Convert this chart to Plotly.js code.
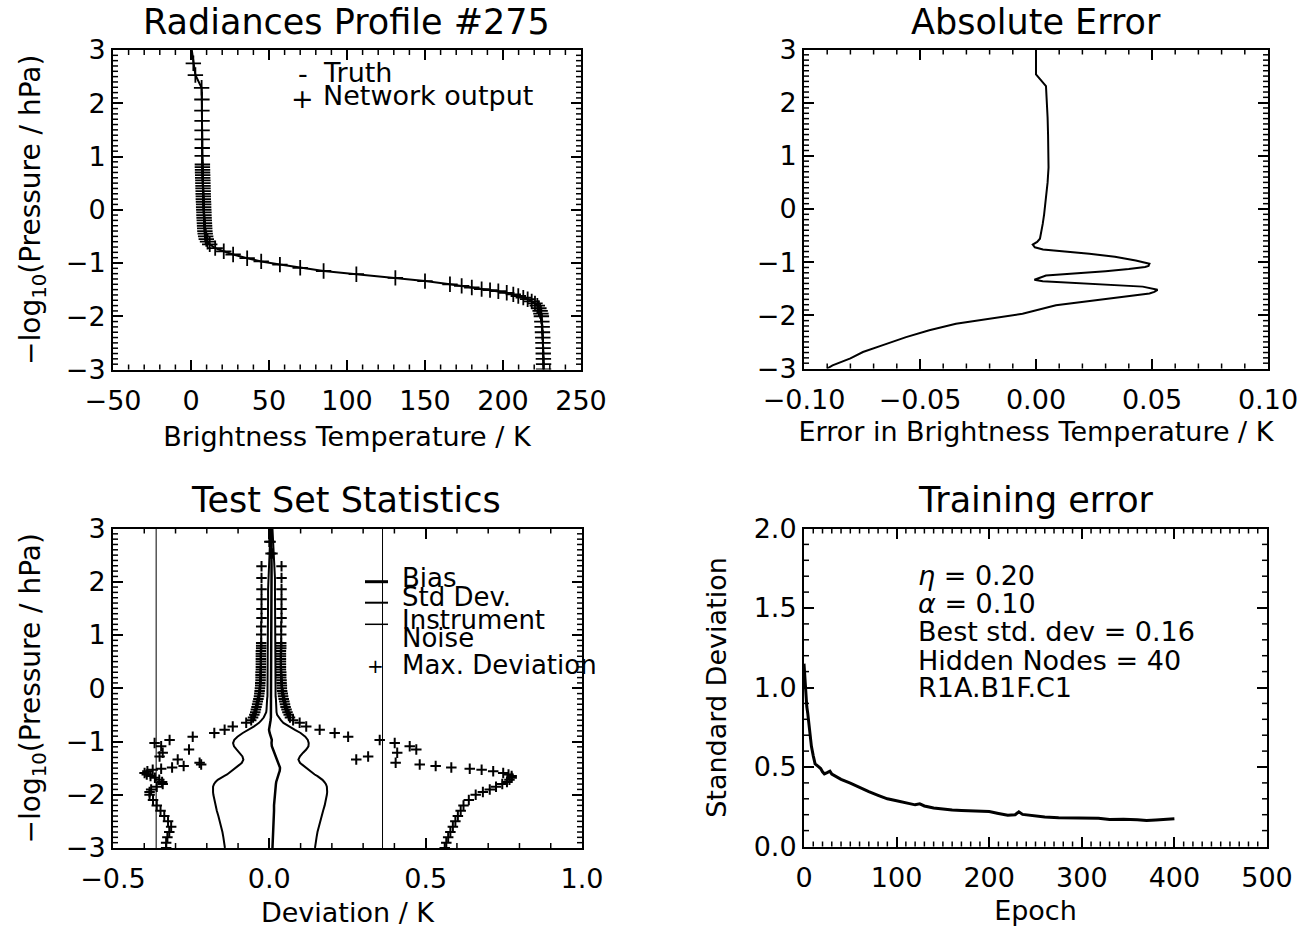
<!DOCTYPE html>
<html>
<head>
<meta charset="utf-8">
<script src="https://cdn.plot.ly/plotly-3.0.1.min.js"></script>
<style>
html,body{margin:0;padding:0;background:#fff;}
#chart{width:1313px;height:932px;}
</style>
</head>
<body>
<div id="chart"></div>
<script>
// ---------- Data ----------
// Pressure levels, -log10(Pressure / hPa), shared by panels 1 and 3
const levels = [3.00, 2.75, 2.53, 2.29, 2.07, 1.86, 1.67, 1.49, 1.32, 1.16, 1.01,
  0.85, 0.80, 0.75, 0.70, 0.65, 0.60, 0.55, 0.50, 0.45, 0.40, 0.35, 0.30, 0.25, 0.20, 0.15, 0.10, 0.05, 0.00,
  -0.05, -0.10, -0.15, -0.20, -0.25, -0.30, -0.35, -0.40, -0.45, -0.50, -0.55, -0.60, -0.65,
  -0.72, -0.78, -0.84, -0.91, -0.97, -1.03, -1.09, -1.15, -1.21, -1.28, -1.34, -1.40,
  -1.43, -1.46, -1.49, -1.51, -1.53, -1.56, -1.59, -1.62, -1.65, -1.68, -1.72, -1.76, -1.80, -1.85, -1.90, -1.95, -2.00,
  -2.10, -2.20, -2.30, -2.40, -2.50, -2.60, -2.70, -2.80, -2.90, -3.00];

// Panel 1: brightness temperature profile (K)
const truthBT = [0.5, 1.5, 2.8, 6.8, 7.0, 7.0, 7.1, 7.1, 7.2, 7.2, 7.2,
  7.3, 7.3, 7.4, 7.4, 7.5, 7.5, 7.6, 7.6, 7.7, 7.7, 7.8, 7.8, 7.9, 7.9, 8.0, 8.1, 8.1, 8.2,
  8.3, 8.3, 8.4, 8.5, 8.6, 8.7, 8.8, 8.9, 9.1, 9.4, 9.8, 10.6, 12.0,
  15.5, 21.0, 27.0, 36.0, 45.0, 57.0, 70.0, 85.0, 106.0, 131.0, 150.0, 166.0,
  173.5, 180.0, 186.3, 191.7, 197.0, 202.4, 206.6, 209.8, 213.0, 215.8, 218.4, 220.5, 222.0, 223.0, 223.8, 224.3, 224.6,
  224.9, 225.1, 225.3, 225.5, 225.6, 225.7, 225.8, 225.9, 226.0, 226.0];
const netLevels = levels.slice(1);
const netBT = truthBT.slice(1);

// Panel 2: absolute error (K)
const errLevels = [3.00, 2.53, 2.31, 2.00, 1.72, 1.40, 1.00, 0.78, 0.50, 0.16,
  -0.10, -0.28, -0.45, -0.56, -0.62, -0.67, -0.72, -0.76, -0.84, -0.90,
  -0.97, -1.03, -1.07, -1.09, -1.13, -1.17, -1.25, -1.33, -1.36, -1.41,
  -1.46, -1.52, -1.56, -1.59, -1.69, -1.81, -1.97, -2.06, -2.16, -2.28,
  -2.41, -2.56, -2.69, -2.81, -2.94, -3.00];
const absErr = [0.000, 0.000, 0.0043, 0.0048, 0.0050, 0.0052, 0.0054, 0.0054, 0.0050, 0.0043,
  0.0035, 0.0029, 0.0022, 0.0017, 0.0005, -0.0014, -0.0005, 0.003, 0.023, 0.034,
  0.043, 0.0489, 0.0485, 0.047, 0.040, 0.030, 0.0043, -0.0007, 0.0029, 0.023,
  0.046, 0.0524, 0.051, 0.0489, 0.030, 0.0086, -0.0058, -0.020, -0.0345, -0.046,
  -0.056, -0.066, -0.0746, -0.080, -0.0877, -0.090];

// Panel 3: test set statistics (K), on the shared levels
const biasDev = [0.006, 0.007, 0.007, 0.007, 0.007, 0.007, 0.007, 0.007, 0.007, 0.007, 0.007,
  0.007, 0.007, 0.007, 0.007, 0.007, 0.007, 0.007, 0.007, 0.007, 0.007, 0.007, 0.007, 0.007, 0.007, 0.007, 0.007, 0.007, 0.007,
  0.007, 0.007, 0.007, 0.007, 0.006, 0.006, 0.006, 0.006, 0.006, 0.006, 0.005, 0.004, 0.002,
  0.000, -0.001, 0.001, 0.006, 0.008, 0.007, 0.008, 0.012, 0.016, 0.021, 0.026, 0.030,
  0.031, 0.033, 0.034, 0.034, 0.034, 0.033, 0.031, 0.029, 0.027, 0.025, 0.024, 0.022, 0.021, 0.020, 0.019, 0.018, 0.017,
  0.016, 0.015, 0.015, 0.014, 0.013, 0.013, 0.012, 0.011, 0.011, 0.010];
const stdLow = [0.004, 0.002, -0.001, -0.003, -0.004, -0.004, -0.004, -0.004, -0.004, -0.004, -0.005,
  -0.005, -0.005, -0.005, -0.005, -0.005, -0.005, -0.005, -0.005, -0.005, -0.005, -0.005, -0.005, -0.005, -0.005, -0.005, -0.005, -0.006, -0.006,
  -0.006, -0.006, -0.006, -0.007, -0.007, -0.008, -0.008, -0.009, -0.010, -0.013, -0.018, -0.025, -0.033,
  -0.050, -0.068, -0.085, -0.102, -0.112, -0.116, -0.113, -0.105, -0.095, -0.086, -0.083, -0.088,
  -0.094, -0.100, -0.106, -0.110, -0.114, -0.120, -0.127, -0.135, -0.145, -0.155, -0.165, -0.172, -0.177, -0.180, -0.181, -0.180, -0.179,
  -0.176, -0.173, -0.168, -0.163, -0.158, -0.154, -0.150, -0.147, -0.144, -0.142];
const stdHigh = [0.010, 0.012, 0.014, 0.017, 0.018, 0.018, 0.018, 0.018, 0.018, 0.018, 0.019,
  0.019, 0.019, 0.019, 0.019, 0.019, 0.019, 0.019, 0.019, 0.019, 0.019, 0.019, 0.019, 0.019, 0.019, 0.019, 0.020, 0.020, 0.020,
  0.020, 0.020, 0.020, 0.021, 0.021, 0.021, 0.022, 0.022, 0.023, 0.025, 0.030, 0.037, 0.045,
  0.063, 0.082, 0.100, 0.115, 0.123, 0.126, 0.125, 0.118, 0.108, 0.098, 0.093, 0.098,
  0.104, 0.110, 0.116, 0.120, 0.124, 0.130, 0.137, 0.145, 0.154, 0.162, 0.170, 0.176, 0.181, 0.184, 0.185, 0.185, 0.184,
  0.181, 0.177, 0.172, 0.167, 0.162, 0.158, 0.154, 0.151, 0.148, 0.146];
const maxDevLow = [null, 0.000, 0.004, -0.025, -0.025, -0.025, -0.025, -0.025, -0.025, -0.026, -0.026,
  -0.026, -0.026, -0.026, -0.027, -0.027, -0.027, -0.027, -0.027, -0.027, -0.027, -0.027, -0.028, -0.028, -0.028, -0.028, -0.029, -0.029, -0.030,
  -0.031, -0.032, -0.033, -0.035, -0.037, -0.039, -0.041, -0.043, -0.045, -0.048, -0.052, -0.058, -0.074,
  -0.117, -0.143, -0.176, -0.245, -0.319, -0.367, -0.346, -0.257, -0.341, -0.351, -0.293, -0.223,
  -0.218, -0.274, -0.311, -0.346, -0.373, -0.390, -0.399, -0.392, -0.380, -0.366, -0.352, -0.343, -0.341, -0.360, -0.378, -0.383, -0.383,
  -0.372, -0.360, -0.348, -0.336, -0.324, -0.314, -0.320, -0.326, -0.330, -0.330];
const maxDevHigh = [null, 0.004, 0.010, 0.039, 0.039, 0.039, 0.039, 0.039, 0.039, 0.038, 0.038,
  0.038, 0.038, 0.038, 0.037, 0.037, 0.037, 0.037, 0.037, 0.037, 0.037, 0.037, 0.038, 0.038, 0.038, 0.039, 0.039, 0.040, 0.040,
  0.041, 0.043, 0.044, 0.046, 0.048, 0.050, 0.052, 0.055, 0.058, 0.062, 0.066, 0.076, 0.097,
  0.118, 0.161, 0.209, 0.252, 0.353, 0.401, 0.449, 0.470, 0.409, 0.316, 0.278, 0.404,
  0.481, 0.532, 0.582, 0.641, 0.679, 0.716, 0.748, 0.765, 0.775, 0.775, 0.768, 0.760, 0.745, 0.725, 0.705, 0.683, 0.660,
  0.638, 0.621, 0.612, 0.603, 0.595, 0.587, 0.579, 0.572, 0.566, 0.561];
const noiseLevels = [3.0, -3.0];
const noiseHigh = [0.362, 0.362];
const noiseLow = [-0.362, -0.362];

// Panel 4: training error
const epochs = [0, 1, 2, 3, 4, 5, 6, 8, 10, 12,
  15, 18, 20, 22, 25, 28, 30, 35, 40, 50,
  60, 70, 80, 90, 100, 110, 120, 125, 130, 140,
  150, 160, 170, 180, 190, 200, 210, 220, 228, 232,
  236, 245, 260, 275, 290, 300, 310, 318, 330, 345,
  360, 370, 380, 390, 400];
const trainErr = [1.15, 1.03, 0.95, 0.88, 0.84, 0.78, 0.71, 0.63, 0.57, 0.52,
  0.505, 0.49, 0.47, 0.457, 0.465, 0.474, 0.455, 0.436, 0.422, 0.398,
  0.370, 0.345, 0.322, 0.300, 0.288, 0.275, 0.262, 0.268, 0.255, 0.242,
  0.235, 0.229, 0.226, 0.224, 0.221, 0.220, 0.208, 0.196, 0.200, 0.218,
  0.202, 0.195, 0.186, 0.181, 0.180, 0.178, 0.182, 0.178, 0.170, 0.172,
  0.168, 0.163, 0.166, 0.168, 0.174];

// ---------- Styling ----------
const FONT = 'DejaVu Sans, sans-serif';
const WEIGHT = 400;
const W = 1313, H = 932;
const px = v => v / W;          // layout helpers (paper coords from pixels)
const py = v => 1 - v / H;

function axis(o) {
  return Object.assign({
    tickmode: 'linear', tick0: 0,
    ticks: 'inside', ticklen: 10, tickwidth: 2, tickcolor: '#000',
    showline: true, linecolor: '#000', linewidth: 2, mirror: 'ticks',
    showgrid: false, zeroline: false,
    tickfont: {family: FONT, size: 27, color: '#000', weight: WEIGHT},
    fixedrange: true
  }, o);
}
function ttl(text, standoff, size) {
  return {text: text, standoff: standoff, font: {family: FONT, size: size || 27, color: '#000', weight: WEIGHT}};
}
const ylab = '\u2212log<sub>10</sub>(Pressure / hPa)';

const layout = {
  width: W, height: H,
  margin: {l: 0, r: 0, t: 0, b: 0},
  paper_bgcolor: '#fff', plot_bgcolor: '#fff',
  showlegend: false,
  font: {family: FONT, color: '#000', weight: WEIGHT},
  xaxis: axis({domain: [px(113), px(581)], anchor: 'y', range: [-50, 250], dtick: 50, ticklabelstandoff: 6,
               title: ttl('Brightness Temperature / K', 12)}),
  yaxis: axis({domain: [py(369.5), py(50)], anchor: 'x', range: [-3, 3], dtick: 1, ticklabelstandoff: 0,
               title: ttl(ylab, 17, 28)}),
  xaxis2: axis({domain: [px(804), px(1268)], anchor: 'y2', range: [-0.1, 0.1], dtick: 0.05, ticklabelstandoff: 6,
               tickformat: '.2f', title: ttl('Error in Brightness Temperature / K', 8)}),
  yaxis2: axis({domain: [py(368.5), py(49.5)], anchor: 'x2', range: [-3, 3], dtick: 1, ticklabelstandoff: 0}),
  xaxis3: axis({domain: [px(113), px(582)], anchor: 'y3', range: [-0.5, 1.0], dtick: 0.5, ticklabelstandoff: 6,
               tickformat: '.1f', title: ttl('Deviation / K', 10)}),
  yaxis3: axis({domain: [py(848), py(528.5)], anchor: 'x3', range: [-3, 3], dtick: 1, ticklabelstandoff: 0,
               title: ttl(ylab, 17, 28)}),
  xaxis4: axis({domain: [px(804), px(1267)], anchor: 'y4', range: [0, 500], dtick: 100, ticklabelstandoff: 6,
               title: ttl('Epoch', 9)}),
  yaxis4: axis({domain: [py(846.5), py(528.5)], anchor: 'x4', range: [0, 2], dtick: 0.5, ticklabelstandoff: 0,
               tickformat: '.1f', title: ttl('Standard Deviation', 19)}),
  shapes: [
    {type: 'line', xref: 'paper', yref: 'paper', x0: px(365), x1: px(388), y0: py(581.7), y1: py(581.7), line: {color: '#000', width: 3}},
    {type: 'line', xref: 'paper', yref: 'paper', x0: px(365), x1: px(388), y0: py(602.7), y1: py(602.7), line: {color: '#000', width: 2}},
    {type: 'line', xref: 'paper', yref: 'paper', x0: px(365), x1: px(388), y0: py(624.3), y1: py(624.3), line: {color: '#000', width: 1.5}}
  ],
  annotations: []
};

// Minor tick marks on all four sides (axis decoration, IDL style), drawn in paper coordinates
const panels = [
  {xr: [-50, 250], xs: 10, xm: 50, yr: [-3, 3], ys: 0.1, ym: 1, L: 113, R: 581, T: 50, B: 369.5},
  {xr: [-0.1, 0.1], xs: 0.01, xm: 0.05, yr: [-3, 3], ys: 0.1, ym: 1, L: 804, R: 1268, T: 49.5, B: 368.5},
  {xr: [-0.5, 1.0], xs: 0.1, xm: 0.5, yr: [-3, 3], ys: 0.1, ym: 1, L: 113, R: 582, T: 528.5, B: 848},
  {xr: [0, 500], xs: 10, xm: 100, yr: [0, 2], ys: 0.1, ym: 0.5, L: 804, R: 1267, T: 528.5, B: 846.5}
];
function minorTicks(p) {
  const len = 5, ln = {color: '#000', width: 1.5};
  const isMajor = (v, m) => Math.abs(v / m - Math.round(v / m)) < 1e-6;
  const nx = Math.round((p.xr[1] - p.xr[0]) / p.xs);
  for (let i = 1; i < nx; i++) {
    const v = p.xr[0] + i * p.xs;
    if (isMajor(v, p.xm)) continue;
    const X = p.L + (v - p.xr[0]) / (p.xr[1] - p.xr[0]) * (p.R - p.L);
    layout.shapes.push({type: 'line', xref: 'paper', yref: 'paper', x0: px(X), x1: px(X), y0: py(p.B), y1: py(p.B - len), line: ln});
    layout.shapes.push({type: 'line', xref: 'paper', yref: 'paper', x0: px(X), x1: px(X), y0: py(p.T), y1: py(p.T + len), line: ln});
  }
  const ny = Math.round((p.yr[1] - p.yr[0]) / p.ys);
  for (let j = 1; j < ny; j++) {
    const v = p.yr[0] + j * p.ys;
    if (isMajor(v, p.ym)) continue;
    const Y = p.B - (v - p.yr[0]) / (p.yr[1] - p.yr[0]) * (p.B - p.T);
    layout.shapes.push({type: 'line', xref: 'paper', yref: 'paper', x0: px(p.L), x1: px(p.L + len), y0: py(Y), y1: py(Y), line: ln});
    layout.shapes.push({type: 'line', xref: 'paper', yref: 'paper', x0: px(p.R), x1: px(p.R - len), y0: py(Y), y1: py(Y), line: ln});
  }
}
panels.forEach(minorTicks);

function note(text, x, y, size, xanchor) {
  layout.annotations.push({text: text, xref: 'paper', yref: 'paper', x: px(x), y: py(y),
    xanchor: xanchor || 'left', yanchor: 'middle', showarrow: false,
    font: {family: FONT, size: size, color: '#000', weight: WEIGHT}});
}
// subplot titles
note('Radiances Profile #275', 346, 22, 35, 'center');
note('Absolute Error', 1036, 22, 35, 'center');
note('Test Set Statistics', 346, 500, 35, 'center');
note('Training error', 1036, 500, 35, 'center');
// panel 1 legend
note('-', 303, 74, 27, 'center');
note('Truth', 321, 73, 27);
note('+', 302, 98, 27, 'center');
note('Network output', 321, 96, 27);
// panel 3 legend
note('Bias', 400, 578, 26);
note('Std Dev.', 400, 597, 26);
note('Instrument', 400, 620, 26);
note('Noise', 400, 638, 26);
note('+', 375, 666, 20, 'center');
note('Max. Deviation', 400, 665, 26);
// panel 4 text
note('<i>\u03b7</i> = 0.20', 916, 575, 27);
note('<i>\u03b1</i> = 0.10', 916, 603, 27);
note('Best std. dev = 0.16', 916, 631, 27);
note('Hidden Nodes = 40', 916, 660, 27);
note('R1A.B1F.C1', 916, 687, 27);

const blk = '#000';
const traces = [
  // Panel 1
  {x: truthBT, y: levels, xaxis: 'x', yaxis: 'y', mode: 'lines', line: {color: blk, width: 2}, name: 'Truth'},
  {x: netBT, y: netLevels, xaxis: 'x', yaxis: 'y', mode: 'markers', name: 'Network output',
   marker: {symbol: 'cross-thin', size: 11, color: blk, line: {color: blk, width: 1.8}}},
  // Panel 2
  {x: absErr, y: errLevels, xaxis: 'x2', yaxis: 'y2', mode: 'lines', line: {color: blk, width: 2}, name: 'Absolute error'},
  // Panel 3
  {x: noiseLow, y: noiseLevels, xaxis: 'x3', yaxis: 'y3', mode: 'lines', line: {color: blk, width: 1}, name: 'Instrument Noise'},
  {x: noiseHigh, y: noiseLevels, xaxis: 'x3', yaxis: 'y3', mode: 'lines', line: {color: blk, width: 1}, name: 'Instrument Noise'},
  {x: stdLow, y: levels, xaxis: 'x3', yaxis: 'y3', mode: 'lines', line: {color: blk, width: 2}, name: 'Std Dev.'},
  {x: stdHigh, y: levels, xaxis: 'x3', yaxis: 'y3', mode: 'lines', line: {color: blk, width: 2}, name: 'Std Dev.'},
  {x: biasDev, y: levels, xaxis: 'x3', yaxis: 'y3', mode: 'lines', line: {color: blk, width: 2.5}, name: 'Bias'},
  {x: maxDevLow, y: levels, xaxis: 'x3', yaxis: 'y3', mode: 'markers', name: 'Max. Deviation',
   marker: {symbol: 'cross-thin', size: 7.5, color: blk, line: {color: blk, width: 2}}},
  {x: maxDevHigh, y: levels, xaxis: 'x3', yaxis: 'y3', mode: 'markers', name: 'Max. Deviation',
   marker: {symbol: 'cross-thin', size: 7.5, color: blk, line: {color: blk, width: 2}}},
  // Panel 4
  {x: epochs, y: trainErr, xaxis: 'x4', yaxis: 'y4', mode: 'lines', line: {color: blk, width: 3}, name: 'Training error'}
];

Plotly.newPlot('chart', traces, layout, {displayModeBar: false, staticPlot: true});
</script>
</body>
</html>
